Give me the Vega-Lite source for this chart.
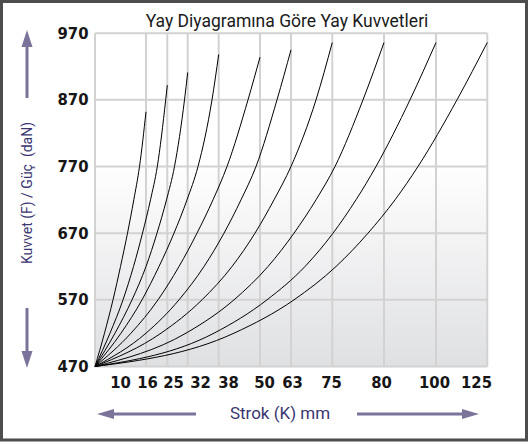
{
  "$schema": "https://vega.github.io/schema/vega-lite/v6.json",
  "width": 531,
  "height": 445,
  "autosize": {"type": "none"},
  "padding": 0,
  "background": "#ffffff",
  "config": {"view": {"stroke": null}},
  "datasets": {
    "curves": [
      {"c": 1, "s": 0, "F": 470}, {"c": 1, "s": 9.5, "F": 520}, {"c": 1, "s": 18, "F": 570}, {"c": 1, "s": 25.5, "F": 620}, {"c": 1, "s": 32.5, "F": 670}, {"c": 1, "s": 38.8, "F": 720}, {"c": 1, "s": 44.5, "F": 770}, {"c": 1, "s": 51, "F": 852},
      {"c": 2, "s": 0, "F": 470}, {"c": 2, "s": 15, "F": 520}, {"c": 2, "s": 28, "F": 570}, {"c": 2, "s": 38.5, "F": 620}, {"c": 2, "s": 47.5, "F": 670}, {"c": 2, "s": 55.5, "F": 720}, {"c": 2, "s": 62.3, "F": 770}, {"c": 2, "s": 70.7, "F": 870}, {"c": 2, "s": 72.3, "F": 892},
      {"c": 3, "s": 0, "F": 470}, {"c": 3, "s": 20, "F": 520}, {"c": 3, "s": 37, "F": 570}, {"c": 3, "s": 51, "F": 620}, {"c": 3, "s": 62, "F": 670}, {"c": 3, "s": 71.5, "F": 720}, {"c": 3, "s": 79.5, "F": 770}, {"c": 3, "s": 89.5, "F": 870}, {"c": 3, "s": 92.7, "F": 911},
      {"c": 4, "s": 0, "F": 470}, {"c": 4, "s": 26, "F": 520}, {"c": 4, "s": 47, "F": 570}, {"c": 4, "s": 64, "F": 620}, {"c": 4, "s": 79, "F": 670}, {"c": 4, "s": 92, "F": 720}, {"c": 4, "s": 103, "F": 770}, {"c": 4, "s": 117, "F": 870}, {"c": 4, "s": 123.7, "F": 938},
      {"c": 5, "s": 0, "F": 470}, {"c": 5, "s": 36, "F": 520}, {"c": 5, "s": 63, "F": 570}, {"c": 5, "s": 84, "F": 620}, {"c": 5, "s": 102, "F": 670}, {"c": 5, "s": 118, "F": 720}, {"c": 5, "s": 132, "F": 770}, {"c": 5, "s": 153, "F": 870}, {"c": 5, "s": 165, "F": 934},
      {"c": 6, "s": 0, "F": 470}, {"c": 6, "s": 51, "F": 520}, {"c": 6, "s": 84, "F": 570}, {"c": 6, "s": 109, "F": 620}, {"c": 6, "s": 129, "F": 670}, {"c": 6, "s": 146, "F": 720}, {"c": 6, "s": 161, "F": 770}, {"c": 6, "s": 182, "F": 870}, {"c": 6, "s": 196, "F": 945},
      {"c": 7, "s": 0, "F": 470}, {"c": 7, "s": 66, "F": 520}, {"c": 7, "s": 107, "F": 570}, {"c": 7, "s": 137, "F": 620}, {"c": 7, "s": 160, "F": 670}, {"c": 7, "s": 179, "F": 720}, {"c": 7, "s": 196, "F": 770}, {"c": 7, "s": 221, "F": 870}, {"c": 7, "s": 237.3, "F": 956},
      {"c": 8, "s": 0, "F": 470}, {"c": 8, "s": 91, "F": 520}, {"c": 8, "s": 139, "F": 570}, {"c": 8, "s": 173, "F": 620}, {"c": 8, "s": 199, "F": 670}, {"c": 8, "s": 221, "F": 720}, {"c": 8, "s": 240, "F": 770}, {"c": 8, "s": 268, "F": 870}, {"c": 8, "s": 289, "F": 956},
      {"c": 9, "s": 0, "F": 470}, {"c": 9, "s": 119, "F": 520}, {"c": 9, "s": 172, "F": 570}, {"c": 9, "s": 210, "F": 620}, {"c": 9, "s": 238, "F": 670}, {"c": 9, "s": 261, "F": 720}, {"c": 9, "s": 281, "F": 770}, {"c": 9, "s": 315, "F": 870}, {"c": 9, "s": 341, "F": 956},
      {"c": 10, "s": 0, "F": 470}, {"c": 10, "s": 139, "F": 520}, {"c": 10, "s": 199, "F": 570}, {"c": 10, "s": 241, "F": 620}, {"c": 10, "s": 273, "F": 670}, {"c": 10, "s": 300, "F": 720}, {"c": 10, "s": 323, "F": 770}, {"c": 10, "s": 362, "F": 870}, {"c": 10, "s": 392.3, "F": 956}
    ],
    "gridV": [{"s": 0, "F": 470, "F2": 970}, {"s": 51, "F": 470, "F2": 970}, {"s": 72.3, "F": 470, "F2": 970}, {"s": 92.7, "F": 470, "F2": 970}, {"s": 123.7, "F": 470, "F2": 970}, {"s": 165, "F": 470, "F2": 970}, {"s": 196, "F": 470, "F2": 970}, {"s": 237.3, "F": 470, "F2": 970}, {"s": 289, "F": 470, "F2": 970}, {"s": 341, "F": 470, "F2": 970}, {"s": 392.3, "F": 470, "F2": 970}],
    "gridH": [{"F": 470, "s": 0, "s2": 392.3}, {"F": 570, "s": 0, "s2": 392.3}, {"F": 670, "s": 0, "s2": 392.3}, {"F": 770, "s": 0, "s2": 392.3}, {"F": 870, "s": 0, "s2": 392.3}, {"F": 970, "s": 0, "s2": 392.3}],
    "plot": [{"s": 0, "s2": 392.3, "F": 970, "F2": 470}],
    "frame": [{"s": -93.5, "s2": 431.5, "F": 1017.5, "F2": 359.75}],
    "shafts": [
      {"s": -68, "s2": -68, "F": 962, "F2": 872.75},
      {"s": -68, "s2": -68, "F": 557.75, "F2": 480.5},
      {"s": 10.5, "s2": 101, "F": 398.75, "F2": 398.75},
      {"s": 262, "s2": 375.5, "F": 398.75, "F2": 398.75}
    ],
    "heads": [
      {"s": -68, "F": 962, "dir": "M0,-1L0.65,1L-0.65,1Z"},
      {"s": -68, "F": 480.5, "dir": "M0,1L0.65,-1L-0.65,-1Z"},
      {"s": 10.5, "F": 398.75, "dir": "M-1,0L1,-0.6L1,0.6Z"},
      {"s": 375.5, "F": 398.75, "dir": "M1,0L-1,-0.6L-1,0.6Z"}
    ],
    "title": [{"s": 192, "F": 979.25, "t": "Yay Diyagramına Göre Yay Kuvvetleri"}],
    "ytitle": [{"s": -67, "F": 730.25, "t": "Kuvvet (F) / Güç \u00a0(daN)"}],
    "xtitle": [{"s": 185, "F": 399.5, "t": "Strok (K) mm"}]
  },
  "encoding": {
    "x": {"field": "s", "type": "quantitative", "scale": {"domain": [-95, 436], "nice": false, "zero": false},
      "axis": {"orient": "bottom", "offset": -78.5, "title": null, "domain": false, "ticks": false, "grid": false,
        "values": [25, 52, 78, 105, 133, 169, 197, 236, 286, 339, 381],
        "labelExpr": "['10','16','25','32','38','50','63','75','80','100','125'][indexof([25,52,78,105,133,169,197,236,286,339,381], datum.value)]",
        "labelPadding": 8, "labelFont": "DejaVu Sans Condensed, sans-serif", "labelFontWeight": "bold", "labelFontSize": 16.5, "labelColor": "#161616", "labelOverlap": false, "labelFlush": false, "labelBound": false}},
    "y": {"field": "F", "type": "quantitative", "scale": {"domain": [352.25, 1019.75], "nice": false, "zero": false},
      "axis": {"orient": "left", "offset": -95, "title": null, "domain": false, "ticks": false, "grid": false,
        "values": [470, 570, 670, 770, 870, 970],
        "labelPadding": 7, "labelFont": "DejaVu Sans Condensed, sans-serif", "labelFontWeight": "bold", "labelFontSize": 16.5, "labelColor": "#161616", "labelOverlap": false, "labelFlush": false, "labelBound": false}}
  },
  "layer": [
    {
      "data": {"name": "plot"},
      "mark": {"type": "rect", "color": {"gradient": "linear", "x1": 0, "y1": 0, "x2": 0, "y2": 1, "stops": [{"offset": 0, "color": "#ffffff"}, {"offset": 0.38, "color": "#ffffff"}, {"offset": 1, "color": "#dfe0e2"}]}},
      "encoding": {"x2": {"field": "s2"}, "y2": {"field": "F2"}}
    },
    {
      "data": {"name": "gridH"},
      "mark": {"type": "rule", "color": "#d2d2d2", "strokeWidth": 2},
      "encoding": {"x2": {"field": "s2"}}
    },
    {
      "data": {"name": "gridV"},
      "mark": {"type": "rule", "color": "#d2d2d2", "strokeWidth": 2},
      "encoding": {"y2": {"field": "F2"}}
    },
    {
      "data": {"name": "curves"},
      "mark": {"type": "line", "color": "#000000", "strokeWidth": 1, "interpolate": "monotone"},
      "encoding": {"detail": {"field": "c"}}
    },
    {
      "data": {"name": "shafts"},
      "mark": {"type": "rule", "color": "#7b7399", "strokeWidth": 3},
      "encoding": {"x2": {"field": "s2"}, "y2": {"field": "F2"}}
    },
    {
      "data": {"name": "heads"},
      "mark": {"type": "point", "filled": true, "opacity": 1, "color": "#7b7399", "size": 289, "strokeWidth": 0},
      "encoding": {"shape": {"field": "dir", "type": "nominal", "scale": null, "legend": null}}
    },
    {
      "data": {"name": "title"},
      "mark": {"type": "text", "font": "Roboto", "fontSize": 17.5, "color": "#1a1a1a", "align": "center", "baseline": "alphabetic"},
      "encoding": {"text": {"field": "t"}}
    },
    {
      "data": {"name": "ytitle"},
      "mark": {"type": "text", "font": "Roboto", "fontSize": 14, "color": "#3a3670", "align": "center", "baseline": "middle", "angle": 270},
      "encoding": {"text": {"field": "t"}}
    },
    {
      "data": {"name": "xtitle"},
      "mark": {"type": "text", "font": "Roboto", "fontSize": 17, "color": "#3a3670", "align": "center", "baseline": "middle"},
      "encoding": {"text": {"field": "t"}}
    },
    {
      "data": {"name": "frame"},
      "mark": {"type": "rect", "fill": null, "fillOpacity": 0, "stroke": "#4d4d4d", "strokeWidth": 3},
      "encoding": {"x2": {"field": "s2"}, "y2": {"field": "F2"}}
    }
  ]
}
